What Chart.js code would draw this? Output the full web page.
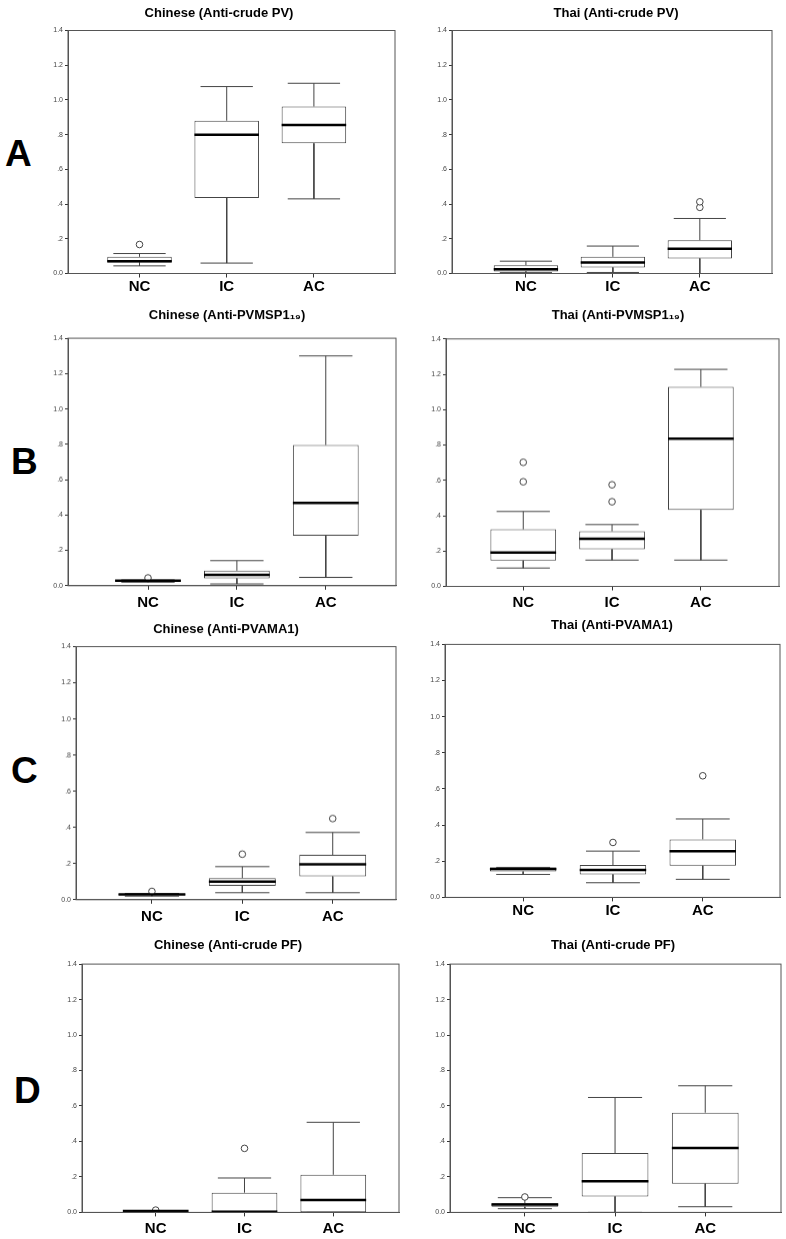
<!DOCTYPE html>
<html>
<head>
<meta charset="utf-8">
<script src="https://cdn.jsdelivr.net/npm/chart.js@4.4.1/dist/chart.umd.min.js"></script>
<style>
body { margin:0; background:#fff; width:786px; height:1239px; overflow:hidden; position:relative; font-family:"Liberation Sans", Arial, sans-serif; }
.panel { position:absolute; }
.letter { position:absolute; font-size:37px; font-weight:bold; line-height:37px; color:#000; }
</style>
</head>
<body>
<div class="letter" style="left:5px;top:135px">A</div>
<div class="letter" style="left:11px;top:443px">B</div>
<div class="letter" style="left:11px;top:752px">C</div>
<div class="letter" style="left:14px;top:1072px">D</div>
<script>
const groups = ['NC', 'IC', 'AC'];
const yTickLabels = ['0.0', '.2', '.4', '.6', '.8', '1.0', '1.2', '1.4'];
const titles = [
    'Chinese (Anti-crude PV)', 'Thai (Anti-crude PV)',
    'Chinese (Anti-PVMSP1₁₉)', 'Thai (Anti-PVMSP1₁₉)',
    'Chinese (Anti-PVAMA1)', 'Thai (Anti-PVAMA1)',
    'Chinese (Anti-crude PF)', 'Thai (Anti-crude PF)'
];
// one row per panel, values for NC, IC, AC
const whiskerLow = [
    [0.044, 0.06, 0.43], [0.005, 0.006, 0.0],
    [0.02, 0.01, 0.047], [0.104, 0.149, 0.149],
    [0.02, 0.039, 0.039], [0.127, 0.081, 0.10],
    [0.004, 0.0, 0.0], [0.021, 0.0, 0.032]
];
const quart1 = [
    [0.063, 0.435, 0.75], [0.012, 0.035, 0.087],
    [0.025, 0.042, 0.282], [0.146, 0.21, 0.433],
    [0.026, 0.076, 0.129], [0.143, 0.127, 0.175],
    [0.006, 0.004, 0.001], [0.032, 0.09, 0.162]
];
const medians = [
    [0.07, 0.80, 0.855], [0.025, 0.063, 0.142],
    [0.028, 0.061, 0.469], [0.191, 0.27, 0.836],
    [0.030, 0.10, 0.196], [0.157, 0.151, 0.256],
    [0.008, 0.004, 0.07], [0.045, 0.175, 0.363]
];
const quart3 = [
    [0.096, 0.88, 0.962], [0.048, 0.096, 0.192],
    [0.031, 0.085, 0.796], [0.323, 0.312, 1.129],
    [0.033, 0.12, 0.248], [0.166, 0.179, 0.321],
    [0.01, 0.111, 0.212], [0.051, 0.335, 0.562]
];
const whiskerHigh = [
    [0.115, 1.077, 1.096], [0.071, 0.158, 0.317],
    [0.033, 0.142, 1.30], [0.424, 0.35, 1.228],
    [0.035, 0.183, 0.372], [0.166, 0.256, 0.434],
    [0.01, 0.194, 0.508], [0.083, 0.648, 0.714]
];
// [group index, value]
const outliers = [
    [[0, 0.167]], [[2, 0.381], [2, 0.413]],
    [[0, 0.044]], [[0, 0.592], [0, 0.702], [1, 0.479], [1, 0.575]],
    [[0, 0.046], [1, 0.252], [2, 0.449]], [[1, 0.304], [2, 0.673]],
    [[0, 0.013], [1, 0.361]], [[0, 0.087]]
];

// where each panel sits on the page (plot box, title centre, label line, x range)
const frames = [
    {l:68, r:396, t:30, b:273, tc:219, ty:13.3, lab:285.7, x0:0.18, x1:3.93},
    {l:452, r:772, t:30, b:273, tc:616, ty:13.3, lab:285.7, x0:0.15, x1:3.83},
    {l:68, r:396, t:338.3, b:585, tc:227, ty:316, lab:601.7, x0:0.10, x1:3.79},
    {l:446, r:779, t:339, b:585.7, tc:618, ty:316, lab:601.7, x0:0.13, x1:3.88},
    {l:76, r:396, t:646.7, b:899, tc:226, ty:630, lab:916, x0:0.16, x1:3.70},
    {l:445, r:780, t:644.3, b:897.3, tc:612, ty:625.7, lab:910.7, x0:0.13, x1:3.86},
    {l:82, r:405, t:964, b:1212.3, tc:228, ty:945.7, lab:1228.3, x0:0.17, x1:3.74},
    {l:450, r:781, t:964, b:1212.3, tc:613, ty:945.7, lab:1228.3, x0:0.17, x1:3.84}
];

Chart.defaults.font.family = '"Liberation Sans", Arial, sans-serif';
const yw = 30, xh = 30;
const boxPart = 0.74, capHalf = 0.3;

const framePlugin = {
    id: 'frame',
    afterDatasetsDraw(chart) {
        const a = chart.chartArea, c = chart.ctx;
        c.save();
        c.strokeStyle = '#555';
        c.lineWidth = 1;
        c.strokeRect(a.left, a.top, a.right - a.left, a.bottom - a.top);
        c.restore();
    }
};

frames.forEach((f, p) => {
    const cl = f.l - yw;
    const w = 2 * (f.tc - cl);
    const extraR = Math.max(0, cl + w - f.r);
    const ct = f.ty - 7.8;
    const padBottom = f.t - ct - 15.6;
    const h = f.b - ct + xh;
    const labPad = Math.max(0, f.lab - f.b - 4 - 9);

    const div = document.createElement('div');
    div.className = 'panel';
    div.style.cssText = `left:${cl}px;top:${ct}px;width:${w}px;height:${h}px`;
    const cv = document.createElement('canvas');
    div.appendChild(cv);
    document.body.appendChild(div);

    const boxes = groups.map((g, i) => ({x: i + 1, y: [quart1[p][i], quart3[p][i]]}));
    const whiskers = [], medLines = [];
    groups.forEach((g, i) => {
        const x = i + 1;
        whiskers.push(
            {x: x, y: quart3[p][i]}, {x: x, y: whiskerHigh[p][i]}, {x: x, y: null},
            {x: x - capHalf, y: whiskerHigh[p][i]}, {x: x + capHalf, y: whiskerHigh[p][i]}, {x: x, y: null},
            {x: x, y: quart1[p][i]}, {x: x, y: whiskerLow[p][i]}, {x: x, y: null},
            {x: x - capHalf, y: whiskerLow[p][i]}, {x: x + capHalf, y: whiskerLow[p][i]}, {x: x, y: null}
        );
        medLines.push({x: x - boxPart / 2, y: medians[p][i]}, {x: x + boxPart / 2, y: medians[p][i]}, {x: x, y: null});
    });
    const dots = outliers[p].map(o => ({x: o[0] + 1, y: o[1]}));

    new Chart(cv, {
        type: 'bar',
        data: {
            datasets: [{
                type: 'bar',
                data: boxes,
                backgroundColor: '#fff',
                borderColor: '#444',
                borderWidth: 1,
                borderSkipped: false,
                barPercentage: boxPart,
                categoryPercentage: 1,
                order: 3
            }, {
                type: 'line',
                data: whiskers,
                borderColor: '#444',
                borderWidth: 1,
                pointRadius: 0,
                spanGaps: false,
                order: 2
            }, {
                type: 'line',
                data: medLines,
                borderColor: '#000',
                borderWidth: 2.5,
                pointRadius: 0,
                spanGaps: false,
                order: 0
            }, {
                type: 'line',
                data: dots,
                showLine: false,
                pointRadius: 3.3,
                pointBackgroundColor: '#fff',
                pointBorderColor: '#444',
                pointBorderWidth: 1,
                order: 1
            }]
        },
        options: {
            responsive: true,
            maintainAspectRatio: false,
            animation: false,
            layout: {padding: 0},
            plugins: {
                legend: {display: false},
                tooltip: {enabled: false},
                title: {
                    display: true,
                    text: titles[p],
                    color: '#000',
                    font: {size: 13, weight: 'bold'},
                    padding: {top: 0, bottom: padBottom}
                }
            },
            scales: {
                x: {
                    type: 'linear',
                    offset: false,
                    min: f.x0,
                    max: f.x1,
                    afterBuildTicks: s => { s.ticks = groups.map((g, i) => ({value: i + 1})); },
                    ticks: {
                        callback: v => groups[Math.round(v) - 1],
                        font: {size: 15, weight: 'bold'},
                        color: '#000',
                        padding: labPad,
                        maxRotation: 0,
                        autoSkip: false
                    },
                    grid: {offset: false, drawOnChartArea: false, tickLength: 4, color: '#333'},
                    border: {color: '#555'},
                    afterFit: s => { s.height = xh; }
                },
                y: {
                    type: 'linear',
                    min: 0,
                    max: 1.4,
                    afterBuildTicks: s => { s.ticks = yTickLabels.map((t, i) => ({value: i * 0.2})); },
                    ticks: {
                        callback: (v, i) => yTickLabels[i],
                        font: {size: 7},
                        color: '#444',
                        padding: 2
                    },
                    grid: {drawOnChartArea: false, tickLength: 3, color: '#333'},
                    border: {color: '#555'},
                    afterFit: s => { s.width = yw; }
                },
                y2: {
                    type: 'linear',
                    position: 'right',
                    display: true,
                    ticks: {display: false},
                    grid: {display: false},
                    border: {display: false},
                    afterFit: s => { s.width = extraR; }
                }
            }
        },
        plugins: [framePlugin]
    });
});
</script>
</body>
</html>
